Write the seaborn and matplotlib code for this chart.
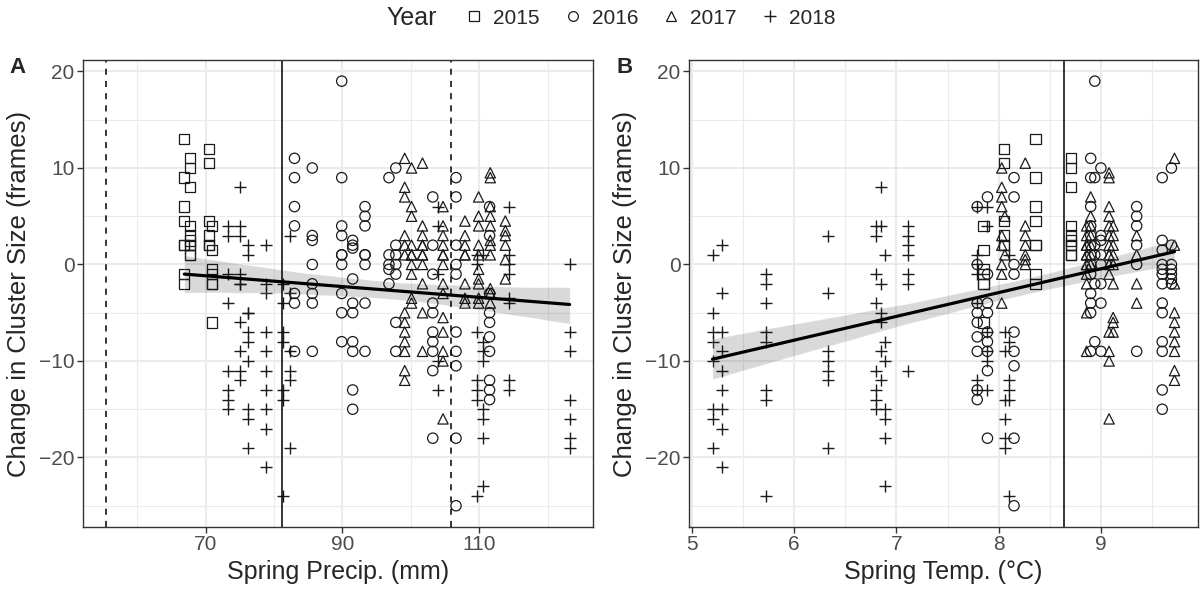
import numpy as np
import pandas as pd
import matplotlib
matplotlib.use("Agg")
import matplotlib.pyplot as plt
import seaborn as sns
from matplotlib.lines import Line2D

# ---- data: (x value, [changes in cluster size]) per year ----
precip_2015 = [(66.9, [13, 9, 6, 4.5, 2, 2, -1, -2]),
               (67.7, [11, 10, 8, 4, 3, 2.5, 2, 1, 1, 2]),
               (70.5, [12, 10.5, 4.5, 3, 2, 2]),
               (70.9, [4, 1.5, -0.5, -1, -2, -2, -6])]
precip_2016 = [(83.0, [11, 9, 6, 4, -3, -4, -9]),
               (85.6, [10, 3, 2.5, 0, -2, -3, -4, -9]),
               (89.9, [19, 9, 4, 3, 1, 0, 1, -3, -5, -8]),
               (91.5, [2.5, 1.7, 2, -1.5, -4, -5, -8, -9, -13, -15]),
               (93.3, [6, 5, 4, 1, 0, 1, -4, -9]),
               (96.8, [9, 0, 1, -0.5, -2]),
               (97.8, [10, 2, 0, 1, -1, -6, -9]),
               (103.2, [7, 2, -1, -4, -5, -7, -8, -9, -11, -18]),
               (106.6, [9, 7, 2, 0, -1, -7, -9, -10.5, -18, -25]),
               (111.5, [6, 3, -3, -5, -6, -7.5, -9, -12, -13, -14])]
precip_2017 = [(99.1, [11, 8, 7, 3, 2, 1, -5, -6, -7, -8, -9, -11, -12]),
               (100.1, [10, 6, 5, 2, 1, 0, 1, -1, -3.5, -4]),
               (101.7, [10.5, 4, 3, 2, 2, 1, 1, 0, -2, -5, -9]),
               (104.7, [6, 4, 3, 2, 1, 1, 0, -2, -3, -5.5, -7, -9, -10, -16]),
               (107.9, [4.5, 3, 2, 1, 1, -2, -3.5, -4]),
               (109.9, [7, 5, 4, 2, 1, -0.5, -1.5, -2, -3.5, -4]),
               (111.6, [9.5, 9, 6, 5, 4, 2.5, 1, 2, -2.5, -3, -4]),
               (113.8, [4.5, 3.5, 3, 2, 0.5, -1.5])]
precip_2018 = [(73.3, [4, 3, -1, -4, -11, -13, -14, -15]),
               (75.0, [8, 4, 3, -1, -2, -2, -6, -9, -11, -12]),
               (76.2, [2, 1, -5, -5, -7, -8, -10, -15, -16, -19]),
               (78.9, [2, -2, -3, -7, -9, -11, -13, -15, -17, -21]),
               (81.3, [-2, -4, -7, -8, -13, -14, -24]),
               (82.3, [3, -3, -9, -11, -12, -19]),
               (104.0, [6, 4, -1, -10, -13]),
               (109.6, [1, 0, -7, -12, -13, -14, -24]),
               (110.6, [1, -8, -9, -10, -15, -16, -18, -23]),
               (114.4, [6, 1, 0, -1, -3.5, -4, -12, -13]),
               (123.2, [0, -7, -9, -14, -16, -18, -19])]

temp_2015 = [(7.85, [4, 1.5, -0.5, -1, -2, -2, -6]),
             (8.05, [12, 10.5, 4.5, 3, 2, 2]),
             (8.36, [13, 9, 6, 4.5, 2, 2, -1, -2]),
             (8.71, [11, 10, 8, 4, 3, 2.5, 2, 2, 1, 1])]
temp_2016 = [(7.79, [6, 0, -4, -5, -6, -7.5, -9, -13, -14]),
             (7.89, [7, -1, -4, -5, -7, -8, -9, -11, -18]),
             (8.15, [9, 7, 0, -1, -7, -9, -10.5, -18, -25]),
             (8.90, [11, 9, 6, 4, 3, 2, 1, 0, -1, -3, -4, -5, -9]),
             (8.94, [19, 9, 2, 1, -2, -8]),
             (9.00, [10, 3, 2.5, 1, 0, -2, -4, -9]),
             (9.35, [6, 5, 4, 2, 0, -9]),
             (9.60, [9, 2.5, 1.5, 0, -0.5, -1, -2, -4, -5, -8, -9, -13, -15]),
             (9.69, [10, 2, 0, -0.5, -1, -1.5, -2])]
temp_2017 = [(8.03, [10, 8, 7, 6, 3, 2, 0, -1, -4]),
             (8.06, [5, 1]),
             (8.26, [10.5, 4, 3, 2, 1, 0.5, 0]),
             (8.86, [4, 3, 2, 2, 1, 1, 0, 0, -1, -2, -5, -9]),
             (8.90, [7, 5, 4, 3, 2, 1, 0, 0]),
             (9.08, [9.5, 9, 6, 5, 4, 3, 2, 1, 1, 0, -1, -7, -9, -10, -16]),
             (9.12, [4, 3, 2, 1, 0, -2, -5.5, -6, -7]),
             (9.35, [3, 1, -2, -4]),
             (9.72, [11, 2, -2, -5, -6, -7, -8, -9, -11, -12])]
temp_2018 = [(5.20, [1, -5, -7, -8, -10, -15, -16, -19]),
             (5.29, [2, -3, -7, -9, -11, -13, -15, -17, -21]),
             (5.72, [-1, -2, -4, -7, -8, -13, -14, -24]),
             (6.33, [3, -3, -9, -10, -11, -12, -19]),
             (6.80, [4, 3, -1, -4, -11, -13, -14, -15]),
             (6.85, [8, 4, -2, -5, -6, -9, -12]),
             (6.89, [1, -8, -10, -15, -16, -18, -23]),
             (7.11, [4, 3, 2, 1, -1, -2, -11]),
             (7.79, [6, 1, 0, -1, -4, -12, -13]),
             (7.89, [6, 4, -7, -9, -10, -13]),
             (8.06, [-7, -9, -14, -16, -18, -19]),
             (8.10, [1, -8, -12, -13, -14, -24])]

years = [2015, 2016, 2017, 2018]
year_markers = {2015: "s", 2016: "o", 2017: "^", 2018: "+"}
precip_dashed = [55.5, 105.8]
precip_solid = [81.2]
temp_solid = [8.64]


def to_frame(groups_by_year):
    rows = []
    for yr, groups in zip(years, groups_by_year):
        for xv, ys in groups:
            for yv in ys:
                rows.append({"x": xv, "change": yv, "year": yr})
    return pd.DataFrame(rows)


df_precip = to_frame([precip_2015, precip_2016, precip_2017, precip_2018])
df_temp = to_frame([temp_2015, temp_2016, temp_2017, temp_2018])

sns.set_theme(style="whitegrid")
plt.rcParams["font.family"] = ["Liberation Sans", "DejaVu Sans"]

fig = plt.figure(figsize=(12.01, 5.89), dpi=100)
ax_a = fig.add_axes([0.0691, 0.1053, 0.4246, 0.793])
ax_b = fig.add_axes([0.5737, 0.1053, 0.4238, 0.793])


def draw_panel(ax, df, xlabel, xlim, major, minor):
    for yr in years:
        sub = df[df["year"] == yr]
        m = year_markers[yr]
        if m == "+":
            sns.scatterplot(data=sub, x="x", y="change", marker=m, s=80,
                            color="#1a1a1a", linewidth=1.0, ax=ax, legend=False)
        else:
            sns.scatterplot(data=sub, x="x", y="change", marker=m, s=55,
                            facecolor="none", edgecolor="#1a1a1a",
                            linewidth=0.9, ax=ax, legend=False)
    sns.regplot(data=df, x="x", y="change", scatter=False, color="black",
                line_kws={"linewidth": 2.3}, seed=3, ax=ax)

    ax.set_xlim(*xlim)
    ax.set_ylim(-27.2, 21.2)
    ax.set_xticks(major)
    ax.set_xticks(minor, minor=True)
    ax.set_yticks([-20, -10, 0, 10, 20])
    ax.set_yticks([-25, -15, -5, 5, 15], minor=True)
    ax.grid(which="major", color="#EBEBEB", linewidth=1.5)
    ax.grid(which="minor", color="#EBEBEB", linewidth=0.8)
    ax.set_axisbelow(True)
    for sp in ax.spines.values():
        sp.set_color("#333333")
        sp.set_linewidth(1.0)
    ax.tick_params(which="major", length=4, width=1, color="#333333",
                   labelsize=15, labelcolor="#4D4D4D", pad=2,
                   bottom=True, left=True)
    ax.tick_params(which="minor", length=0)
    ax.set_xlabel(xlabel, fontsize=18, labelpad=4)
    ax.set_ylabel("Change in Cluster Size (frames)", fontsize=18.5, labelpad=6)


draw_panel(ax_a, df_precip, "Spring Precip. (mm)", (52.1, 126.6),
           [70, 90, 110], [60, 80, 100, 120])
draw_panel(ax_b, df_temp, "Spring Temp. (°C)", (4.97, 9.95),
           [5, 6, 7, 8, 9], [5.5, 6.5, 7.5, 8.5, 9.5])

for v in precip_dashed:
    ax_a.axvline(v, color="black", linestyle=(0, (4, 4)), linewidth=1.1)
for v in precip_solid:
    ax_a.axvline(v, color="black", linewidth=1.1)
for v in temp_solid:
    ax_b.axvline(v, color="black", linewidth=1.1)

fig.text(0.008, 0.876, "A", fontsize=16, fontweight="bold")
fig.text(0.513, 0.876, "B", fontsize=16, fontweight="bold")

handles = []
for yr in years:
    m = year_markers[yr]
    if m == "+":
        h = Line2D([], [], marker=m, linestyle="none", color="#1a1a1a",
                   markersize=9, markeredgewidth=1.0)
    else:
        h = Line2D([], [], marker=m, linestyle="none", markerfacecolor="none",
                   markeredgecolor="#1a1a1a", markersize=7, markeredgewidth=0.9)
    handles.append(h)
fig.text(0.343, 0.969, "Year", fontsize=18, ha="center", va="center")
fig.legend(handles, [str(y) for y in years], loc="center",
           bbox_to_anchor=(0.54, 0.969), ncol=4, frameon=False,
           fontsize=15, handletextpad=0.3, columnspacing=1.0,
           handlelength=1.2)

fig.savefig("out.png", dpi=100)
